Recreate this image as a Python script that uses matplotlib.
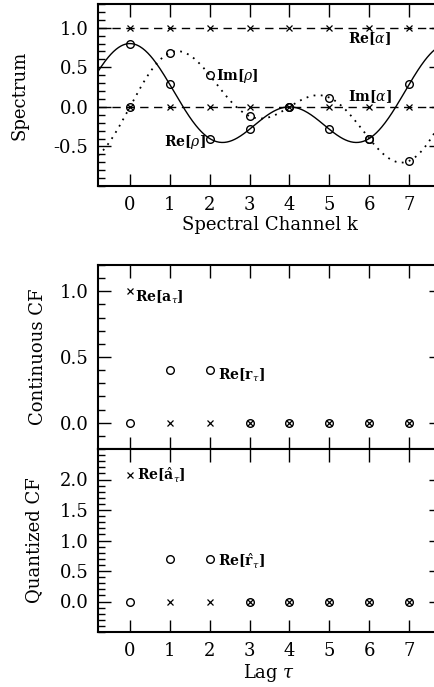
import numpy as np
import matplotlib
matplotlib.use("Agg")
import matplotlib.pyplot as plt
from matplotlib.ticker import MultipleLocator, FixedLocator, FormatStrFormatter

# lag-domain correlation functions
lags = [0, 1, 2, 3, 4, 5, 6, 7]
re_a = [1.0, 0, 0, 0, 0, 0, 0, 0]          # continuous autocorrelation a_tau
re_r = [0.0, 0.4, 0.4, 0, 0, 0, 0, 0]      # continuous cross-correlation r_tau
re_a_hat = [2.08, 0, 0, 0, 0, 0, 0, 0]     # quantized a_tau
re_r_hat = [0.0, 0.7, 0.7, 0, 0, 0, 0, 0]  # quantized r_tau

channels = [0, 1, 2, 3, 4, 5, 6, 7]
n_chan = 8

plt.rcParams['font.family'] = 'DejaVu Serif'
plt.rcParams['mathtext.fontset'] = 'dejavuserif'


def spectrum(corr, k):
    # spectrum of a lag-domain correlation function at channel(s) k
    k = np.asarray(k, dtype=float)
    out = np.zeros_like(k, dtype=complex)
    for tau, c in zip(lags, corr):
        out += c * np.exp(2j * np.pi * k * tau / n_chan)
    return out


def style(ax, yticks, ylim, xlabels=True):
    ax.set_xlim(-0.8, 7.8)
    ax.set_ylim(*ylim)
    ax.xaxis.set_major_locator(MultipleLocator(1))
    ax.yaxis.set_major_locator(FixedLocator(yticks))
    ax.yaxis.set_minor_locator(MultipleLocator(0.1))
    ax.tick_params(which='both', direction='in', top=True, right=True, width=1.0)
    ax.tick_params(which='major', length=9, labelsize=13, pad=7)
    ax.tick_params(which='minor', length=5)
    ax.yaxis.set_major_formatter(FormatStrFormatter('%.1f'))
    if not xlabels:
        ax.tick_params(labelbottom=False)
    for s in ax.spines.values():
        s.set_linewidth(1.5)


fig = plt.figure(figsize=(4.34, 6.87), dpi=100)
L, R = 98 / 434, 441 / 434
ax1 = fig.add_axes([L, 1 - 186 / 687, R - L, (186 - 4) / 687])
ax2 = fig.add_axes([L, 1 - 449 / 687, R - L, (449 - 265) / 687])
ax3 = fig.add_axes([L, 1 - 632 / 687, R - L, (632 - 449) / 687])

mk = dict(ls='none', color='black')
circ = dict(marker='o', ms=5.5, mfc='none', mew=1.0, **mk)
cross = dict(marker='x', ms=4, mew=0.9, **mk)
lab = dict(fontsize=10, fontweight='bold', va='center')

# top panel: spectra
xx = np.linspace(-0.8, 7.8, 400)
alpha = spectrum(re_a, xx)
rho = spectrum(re_r, xx)
alpha_k = spectrum(re_a, channels)
rho_k = spectrum(re_r, channels)

ax1.plot(xx, alpha.real, color='black', lw=1.0, dashes=(6, 4))
ax1.plot(xx, alpha.imag, color='black', lw=1.0, dashes=(6, 4))
ax1.plot(xx, rho.real, color='black', lw=1.0)
ax1.plot(xx, rho.imag, color='black', lw=1.3, ls=(0, (1, 3)))
ax1.plot(channels, alpha_k.real, **cross)
ax1.plot(channels, alpha_k.imag, **cross)
ax1.plot(channels, rho_k.real, **circ)
ax1.plot(channels, rho_k.imag, **circ)

ax1.text(5.48, 0.86, r'Re[$\alpha$]', **lab)
ax1.text(2.15, 0.39, r'Im[$\rho$]', **lab)
ax1.text(5.48, 0.13, r'Im[$\alpha$]', **lab)
ax1.text(0.85, -0.44, r'Re[$\rho$]', **lab)

style(ax1, [-0.5, 0.0, 0.5, 1.0], (-1.0, 1.3))
ax1.set_xlabel('Spectral Channel k', fontsize=13, labelpad=2)
ax1.set_ylabel('Spectrum', fontsize=13)
ax1.yaxis.set_label_coords(-0.204, 0.5)

# middle panel: continuous correlation functions
ax2.plot(lags, re_a, **cross)
ax2.plot(lags, re_r, **circ)
ax2.text(0.12, 0.95, r'Re[$\mathbf{a}_\tau$]', **lab)
ax2.text(2.2, 0.36, r'Re[$\mathbf{r}_\tau$]', **lab)
style(ax2, [0.0, 0.5, 1.0], (-0.2, 1.2), xlabels=False)
ax2.set_ylabel('Continuous CF', fontsize=13)
ax2.yaxis.set_label_coords(-0.149, 0.5)

# bottom panel: quantized correlation functions
ax3.plot(lags, re_a_hat, **cross)
ax3.plot(lags, re_r_hat, **circ)
ax3.text(0.17, 2.08, r'Re[$\hat{\mathbf{a}}_\tau$]', **lab)
ax3.text(2.2, 0.67, r'Re[$\hat{\mathbf{r}}_\tau$]', **lab)
style(ax3, [0.0, 0.5, 1.0, 1.5, 2.0], (-0.5, 2.5))
ax3.set_xlabel(r'Lag $\tau$', fontsize=13, labelpad=2)
ax3.set_ylabel('Quantized CF', fontsize=13)
ax3.yaxis.set_label_coords(-0.160, 0.5)

fig.savefig('out.png', dpi=100)
